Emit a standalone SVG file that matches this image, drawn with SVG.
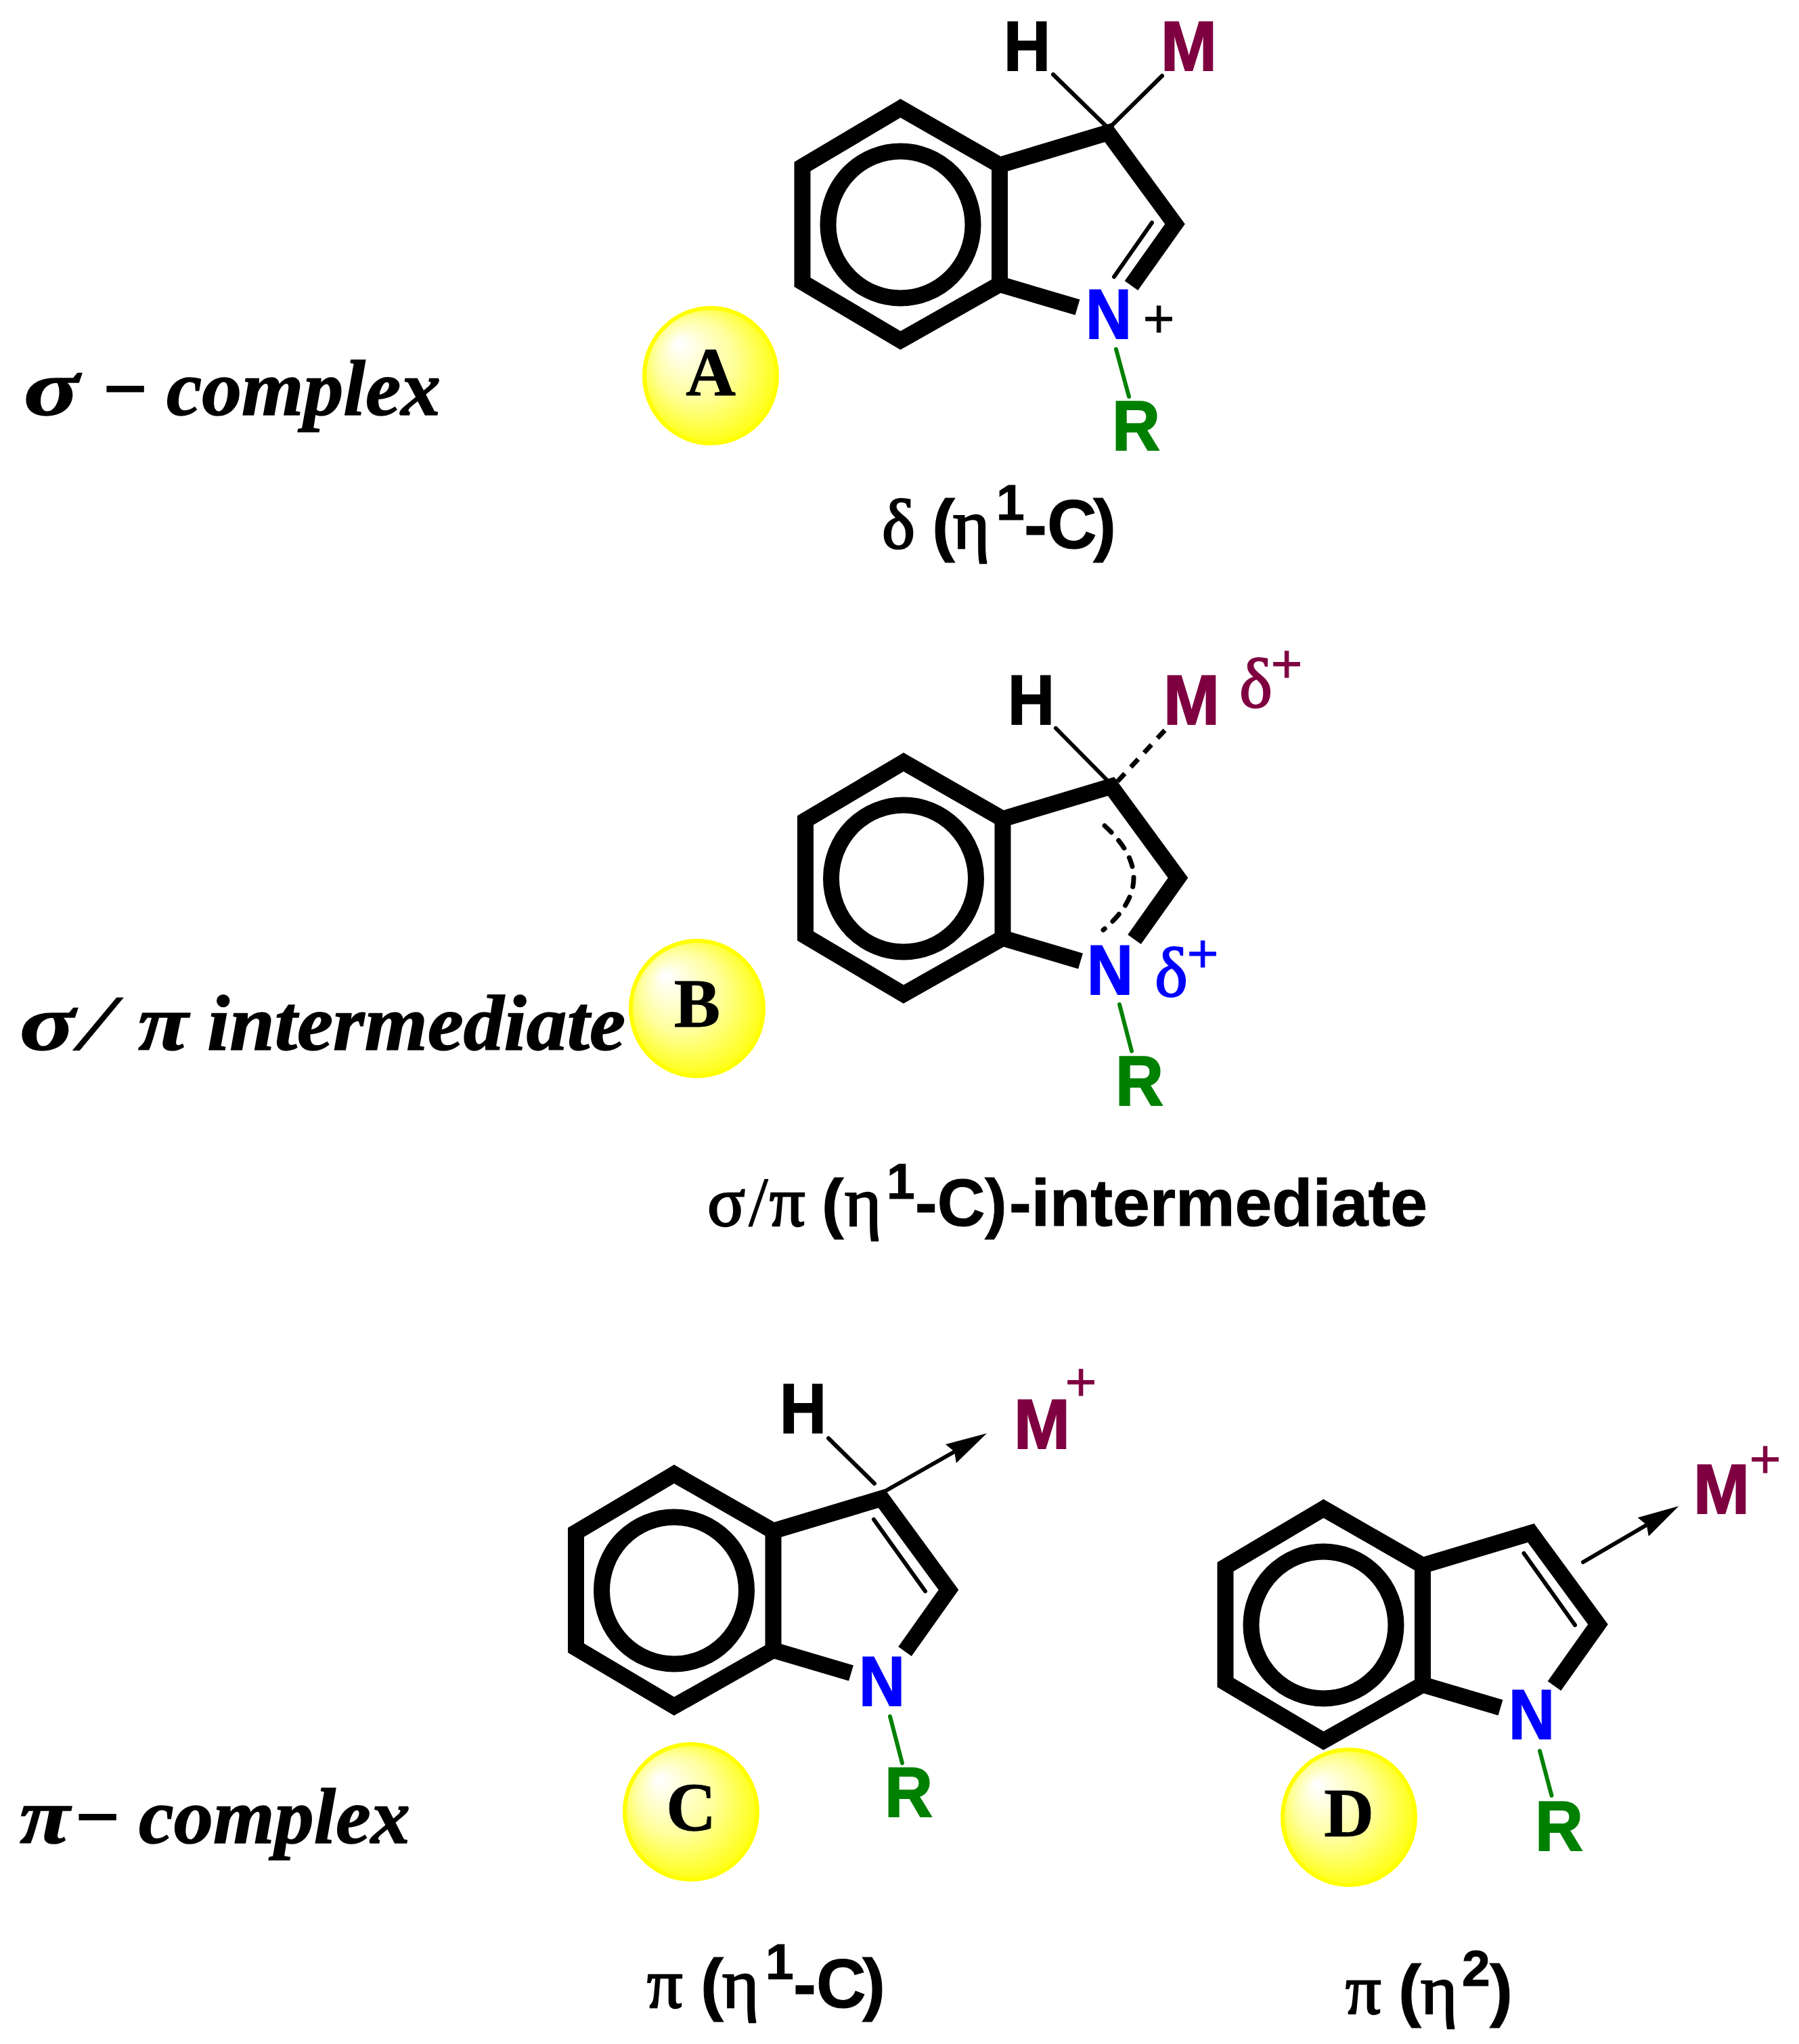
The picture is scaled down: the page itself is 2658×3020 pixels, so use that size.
<svg xmlns="http://www.w3.org/2000/svg" width="2658" height="3020" viewBox="0 0 2658 3020">
<style>
text{fill:#000}
.atom{font-family:"Liberation Sans",Arial,sans-serif;font-weight:700;font-size:103px;stroke:#000;stroke-width:2}
.m{fill:#7F0040;stroke:#7F0040}.n{fill:#0000FF;stroke:#0000FF}.r{fill:#008000;stroke:#008000}
.lab{font-family:"Liberation Sans",Arial,sans-serif;font-weight:700;font-size:102px;stroke:#000;stroke-width:1}
.labs{font-family:"Liberation Sans",Arial,sans-serif;font-weight:700;font-size:98px;stroke:#000;stroke-width:1}
.thinlab{font-family:"Liberation Serif","Times New Roman",serif;font-size:104px;stroke:#000;stroke-width:1}
.gr{font-family:"Liberation Serif","Times New Roman",serif;font-weight:400;font-size:104px;stroke:#000;stroke-width:2.5}
.sup{font-family:"Liberation Sans",Arial,sans-serif;font-weight:700;font-size:75px;stroke:#000;stroke-width:1}
.plus{font-family:"Liberation Sans",Arial,sans-serif;font-size:80px;text-anchor:middle;stroke-width:.8}
.delta{font-family:"Liberation Serif","Times New Roman",serif;font-size:104px;stroke-width:2}
.big{font-family:"Liberation Serif","Times New Roman",serif;font-weight:700;font-style:italic;font-size:116px;stroke:#000;stroke-width:1.5}
.slash{font-weight:400;stroke-width:.5}
.letter{font-family:"Liberation Serif","Times New Roman",serif;font-weight:700;font-size:102px;text-anchor:middle;stroke:#000;stroke-width:1}
.sk{fill:none;stroke:#000;stroke-width:24;stroke-linejoin:miter;stroke-miterlimit:10}
.thin{fill:none;stroke:#000;stroke-width:6;stroke-linecap:round}
.dash{fill:none;stroke:#000;stroke-width:7}
.gb{fill:none;stroke:#008000;stroke-width:6;stroke-linecap:round}
.ball{fill:url(#ballGrad);stroke:#FFFF00;stroke-width:6}
</style>
<defs>
<radialGradient id="ballGrad" cx="0.5" cy="0.5" r="0.6" fx="0.25" fy="0.25">
<stop offset="0.03" stop-color="#FFFFFF"/>
<stop offset="0.5" stop-color="#FFFF9C"/>
<stop offset="0.95" stop-color="#FFFF00"/>
</radialGradient>
<g id="skeleton">
<polygon class="sk" points="1330.5,160 1185.5,246 1185.5,417 1330.5,503 1477,420 1477,244"/>
<ellipse class="sk" cx="1330.5" cy="332" rx="107" ry="108.5"/>
<path class="sk" d="M1477,244 L1637,196 L1736,331 L1671.5,422 M1477,420 L1592,454"/>
</g>
<marker id="head" markerUnits="userSpaceOnUse" markerWidth="62" markerHeight="34" refX="30" refY="17" orient="auto" viewBox="0 0 62 34">
<path d="M61,17 L0,1 L6,17 L0,33 Z" fill="#000"/>
</marker>
</defs>
<rect width="2658" height="3020" fill="#FFFFFF"/>

<g id="connectors">
<path class="thin" d="M1556,110 L1638,190"/>
<path class="thin" d="M1717,112 L1638,190"/>
<path class="thin" d="M1702,329 L1646,409"/>
<path class="gb" d="M1649,516 L1668,586"/>

<path class="thin" d="M1560,1076 L1638,1155"/>
<path class="dash" stroke-dasharray="16 13" d="M1721,1079 L1646,1160"/>
<path class="dash" stroke-dasharray="14 16" stroke-linecap="round" d="M1632,1220 Q1719,1299 1630,1374"/>
<path class="gb" d="M1654,1484 L1672,1553"/>

<path class="thin" d="M1224,2125 L1292,2192"/>
<path class="thin" d="M1291,2245 L1367,2351"/>
<path class="thin" marker-end="url(#head)" d="M1308,2203 L1431,2133"/>
<path class="gb" d="M1315,2536 L1333,2605"/>

<path class="thin" d="M2251.5,2295 L2327,2401"/>
<path class="thin" marker-end="url(#head)" d="M2339,2308 L2453.6,2241"/>
<path class="gb" d="M2275,2587 L2292.5,2653"/>
</g>

<g id="label-sigma-complex">
<text class="big" y="613"><tspan x="35" textLength="82" lengthAdjust="spacingAndGlyphs">σ</tspan><tspan x="149">−</tspan><tspan x="246" textLength="405" lengthAdjust="spacingAndGlyphs">complex</tspan></text>
</g>
<g id="label-sigma-pi-intermediate">
<text class="big" y="1551"><tspan x="29" textLength="82" lengthAdjust="spacingAndGlyphs">σ</tspan><tspan class="slash" x="116" textLength="52" lengthAdjust="spacingAndGlyphs">/</tspan><tspan x="204" textLength="74" lengthAdjust="spacingAndGlyphs">π</tspan><tspan x="306" textLength="618" lengthAdjust="spacingAndGlyphs">intermediate</tspan></text>
</g>
<g id="label-pi-complex">
<text class="big" y="2723"><tspan x="29" textLength="74" lengthAdjust="spacingAndGlyphs">π</tspan><tspan x="108">−</tspan><tspan x="205" textLength="401" lengthAdjust="spacingAndGlyphs">complex</tspan></text>
</g>

<g id="node-A">
<use href="#skeleton"/>
<text class="atom" x="1483" y="104" textLength="69" lengthAdjust="spacingAndGlyphs">H</text>
<text class="atom m" x="1715" y="104" textLength="83" lengthAdjust="spacingAndGlyphs">M</text>
<text class="atom n" x="1604" y="500" textLength="68" lengthAdjust="spacingAndGlyphs">N</text>
<text class="plus" stroke="#000" x="1712" y="498">+</text>
<text class="atom r" x="1643" y="665" textLength="71" lengthAdjust="spacingAndGlyphs">R</text>
<ellipse class="ball" cx="1050" cy="555" rx="98" ry="100"/>
<text class="letter" x="1050" y="584">A</text>
<text y="810"><tspan class="gr" x="1303">δ</tspan><tspan class="lab" x="1377">(</tspan><tspan class="gr" x="1408">η</tspan><tspan class="sup" x="1472" y="768">1</tspan><tspan class="lab" x="1513" y="810">-C</tspan><tspan class="lab" x="1615">)</tspan></text>
</g>

<g id="node-B">
<use href="#skeleton" transform="translate(4.5,966)"/>
<text class="atom" x="1489" y="1070" textLength="69" lengthAdjust="spacingAndGlyphs">H</text>
<text class="atom m" x="1719" y="1070" textLength="83" lengthAdjust="spacingAndGlyphs">M</text>
<text class="delta m" x="1831" y="1045">δ</text>
<text class="plus m" x="1901" y="1008">+</text>
<text class="atom n" x="1606" y="1469" textLength="68" lengthAdjust="spacingAndGlyphs">N</text>
<text class="delta n" x="1706" y="1472">δ</text>
<text class="plus n" x="1777" y="1436">+</text>
<text class="atom r" x="1648" y="1633" textLength="71" lengthAdjust="spacingAndGlyphs">R</text>
<ellipse class="ball" cx="1030" cy="1490" rx="98" ry="100"/>
<text class="letter" x="1030" y="1517">B</text>
<text y="1811"><tspan class="gr" x="1045">σ</tspan><tspan class="thinlab" x="1106">/</tspan><tspan class="gr" x="1137">π</tspan><tspan class="labs" x="1214">(</tspan><tspan class="gr" x="1248">η</tspan><tspan class="sup" x="1310" y="1771">1</tspan><tspan class="labs" x="1352" y="1811">-C</tspan><tspan class="labs" x="1455">)</tspan><tspan class="labs" x="1491" textLength="618" lengthAdjust="spacingAndGlyphs">-intermediate</tspan></text>
</g>

<g id="node-C">
<use href="#skeleton" transform="translate(-334.5,2018)"/>
<text class="atom" x="1152" y="2117" textLength="69" lengthAdjust="spacingAndGlyphs">H</text>
<text class="atom m" x="1498" y="2140" textLength="83" lengthAdjust="spacingAndGlyphs">M</text>
<text class="plus m" x="1597" y="2069">+</text>
<text class="atom n" x="1269" y="2520" textLength="68" lengthAdjust="spacingAndGlyphs">N</text>
<text class="atom r" x="1307" y="2684" textLength="71" lengthAdjust="spacingAndGlyphs">R</text>
<ellipse class="ball" cx="1021" cy="2677" rx="98" ry="100"/>
<text class="letter" x="1021" y="2705">C</text>
<text y="2966"><tspan class="gr" x="956">π</tspan><tspan class="lab" x="1035">(</tspan><tspan class="gr" x="1067">η</tspan><tspan class="sup" x="1131" y="2924">1</tspan><tspan class="lab" x="1172" y="2966">-C</tspan><tspan class="lab" x="1274">)</tspan></text>
</g>

<g id="node-D">
<use href="#skeleton" transform="translate(625,2069)"/>
<text class="atom m" x="2502" y="2236" textLength="83" lengthAdjust="spacingAndGlyphs">M</text>
<text class="plus m" x="2608" y="2183">+</text>
<text class="atom n" x="2229" y="2569" textLength="68" lengthAdjust="spacingAndGlyphs">N</text>
<text class="atom r" x="2268" y="2734" textLength="71" lengthAdjust="spacingAndGlyphs">R</text>
<ellipse class="ball" cx="1993" cy="2685" rx="98" ry="100"/>
<text class="letter" x="1993" y="2713">D</text>
<text y="2975"><tspan class="gr" x="1988">π</tspan><tspan class="lab" x="2066">(</tspan><tspan class="gr" x="2099">η</tspan><tspan class="sup" x="2160" y="2934">2</tspan><tspan class="lab" x="2201" y="2975">)</tspan></text>
</g>
</svg>
